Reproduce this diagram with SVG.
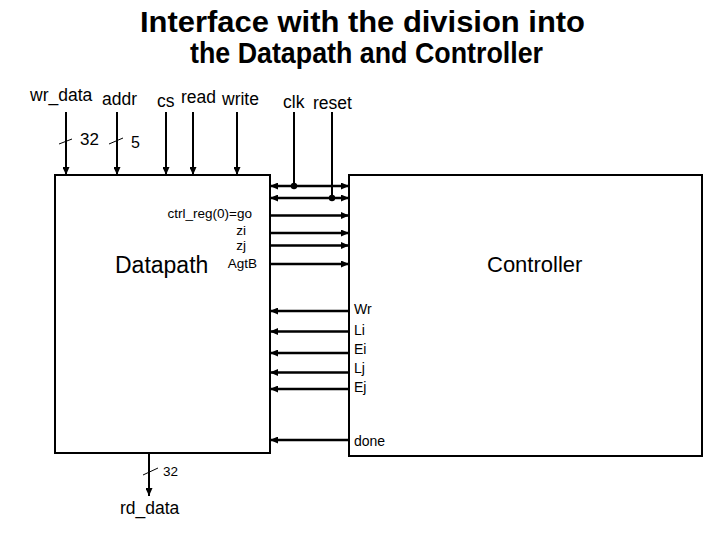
<svg xmlns="http://www.w3.org/2000/svg" width="720" height="540" viewBox="0 0 720 540">
<style>
text{font-family:"Liberation Sans",Arial,sans-serif;fill:#000}
.title{font-size:30px;font-weight:bold}
.pin{font-size:17.5px}
.sig{font-size:13.5px}
.big{font-size:23px}
.box{fill:#fff;stroke:#000;stroke-width:2}
.w{stroke:#000;stroke-width:2;fill:none}
.h{stroke:#000;stroke-width:2.5;fill:none}
.sl{stroke:#000;stroke-width:1;fill:none}
.a{marker-end:url(#ah)}
.b{marker-start:url(#ah);marker-end:url(#ah)}
</style>
<defs>
<marker id="ah" markerUnits="userSpaceOnUse" markerWidth="8" markerHeight="7" refX="8" refY="3.5" orient="auto-start-reverse"><path d="M0,0 L8,3.5 L0,7 z" fill="#000"/></marker>
</defs>
<rect width="720" height="540" fill="#fff"/>
<g id="title">
<text class="title" x="362.5" y="32" text-anchor="middle" textLength="445" lengthAdjust="spacingAndGlyphs">Interface with the division into</text>
<text class="title" x="366.5" y="63" text-anchor="middle" textLength="353" lengthAdjust="spacingAndGlyphs">the Datapath and Controller</text>
</g>
<g id="datapath">
<rect class="box" x="55" y="175" width="215" height="278"/>
<text class="big" x="115" y="273">Datapath</text>
</g>
<g id="controller">
<rect class="box" x="349" y="175" width="353" height="281"/>
<text class="big" x="487" y="272" style="font-size:22px">Controller</text>
</g>
<g id="pins">
<text class="pin" x="30" y="101">wr_data</text>
<text class="pin" x="102" y="105">addr</text>
<text class="pin" x="157" y="107">cs</text>
<text class="pin" x="181" y="103">read</text>
<text class="pin" x="222" y="105">write</text>
<text class="pin" x="283" y="108">clk</text>
<text class="pin" x="313" y="109">reset</text>
<text class="pin" x="80" y="145" style="font-size:17px">32</text>
<text class="pin" x="131" y="148" style="font-size:16px">5</text>
<text class="pin" x="120" y="514">rd_data</text>
<text class="sig" x="163" y="476">32</text>
</g>
<g id="signal-labels" class="sig">
<text x="252" y="218" text-anchor="end">ctrl_reg(0)=go</text>
<text x="246" y="235" text-anchor="end">zi</text>
<text x="246" y="250" text-anchor="end">zj</text>
<text x="257" y="268" text-anchor="end">AgtB</text>
<text x="354" y="314" style="font-size:14px">Wr</text>
<text x="354" y="335" style="font-size:14px">Li</text>
<text x="354" y="354" style="font-size:14px">Ei</text>
<text x="354" y="373" style="font-size:14px">Lj</text>
<text x="354" y="392" style="font-size:14px">Ej</text>
<text x="354" y="446" style="font-size:14px">done</text>
</g>
<g id="connectors">
<line class="w a" x1="66" y1="112" x2="66" y2="175"/>
<line class="w a" x1="117" y1="112" x2="117" y2="175"/>
<line class="w a" x1="166" y1="112" x2="166" y2="175"/>
<line class="w a" x1="193" y1="112" x2="193" y2="175"/>
<line class="w a" x1="237" y1="112" x2="237" y2="175"/>
<line class="sl" x1="59" y1="144" x2="72" y2="139"/>
<line class="sl" x1="109" y1="144" x2="123" y2="138"/>
<line class="w" x1="294" y1="112" x2="294" y2="186"/>
<line class="w" x1="332" y1="112" x2="332" y2="198"/>
<line class="h b" x1="270" y1="186" x2="349" y2="186"/>
<line class="h b" x1="270" y1="198" x2="349" y2="198"/>
<circle cx="294" cy="186" r="3.2" fill="#000"/>
<circle cx="332" cy="198" r="3.2" fill="#000"/>
<line class="h a" x1="270" y1="215.5" x2="349" y2="215.5"/>
<line class="h a" x1="270" y1="233" x2="349" y2="233"/>
<line class="h a" x1="270" y1="245.5" x2="349" y2="245.5"/>
<line class="h a" x1="270" y1="264" x2="349" y2="264"/>
<line class="h a" x1="349" y1="311" x2="270" y2="311"/>
<line class="h a" x1="349" y1="331.5" x2="270" y2="331.5"/>
<line class="h a" x1="349" y1="353" x2="270" y2="353"/>
<line class="h a" x1="349" y1="372.5" x2="270" y2="372.5"/>
<line class="h a" x1="349" y1="389" x2="270" y2="389"/>
<line class="h a" x1="349" y1="440" x2="270" y2="440"/>
<line class="w a" x1="149" y1="453" x2="149" y2="496"/>
<line class="sl" x1="143" y1="475" x2="158" y2="468"/>
</g>
</svg>
